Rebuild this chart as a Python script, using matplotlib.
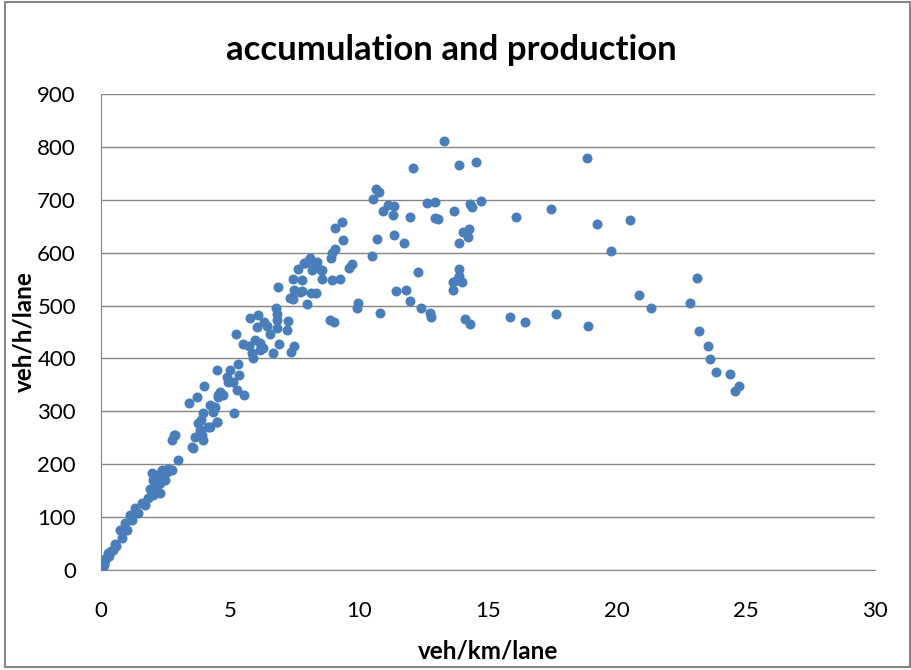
import numpy as np
import matplotlib.pyplot as plt

# accumulation (veh/km/lane) and production (veh/h/lane)
acc = [0.0, 0.03, 0.05, 0.08, 0.1, 0.12, 0.16, 0.2, 0.28, 0.3, 0.38, 0.48, 0.54, 0.6,
       0.74, 0.8, 0.93, 1.0, 1.12, 1.2, 1.32, 1.45, 1.58, 1.7, 1.83, 1.9, 2.03, 2.03,
       2.16, 2.16, 2.29, 2.29, 2.35, 2.48, 2.61, 2.74, 1.96, 2.1, 2.4, 2.55,
       3.0, 2.84, 2.74, 3.64, 3.97, 3.52, 3.58, 2.87, 3.9,
       4.22, 4.35, 3.97, 3.88, 3.75, 4.16, 4.51, 5.17, 4.42, 4.48, 4.22, 3.84, 4.55,
       4.61, 4.55, 4.93, 5.26, 5.54, 4.0, 3.71, 3.41, 5.30, 5.0, 5.36, 4.87, 5.10, 4.51, 4.74,
       5.24, 5.52, 5.75, 5.97, 6.16, 6.29, 5.84, 5.90, 6.16, 6.68, 6.91, 7.48, 7.36,
       5.78, 6.10, 6.32, 6.42, 6.03, 6.55, 6.83, 7.20, 7.26,
       6.78, 6.83, 6.81, 6.87, 7.48, 7.71, 7.33, 7.43, 8.0,
       7.45, 7.80, 8.58, 8.97, 9.26, 7.91, 8.10, 8.36, 7.87, 7.65, 8.17, 8.55, 8.27,
       8.14, 8.33, 7.78, 8.51,
       9.35, 9.08, 9.38, 9.06, 8.97, 8.90, 9.62, 9.74, 9.97, 9.93, 8.88, 9.04,
       10.52, 10.53, 10.67, 10.78, 10.69, 10.94, 10.81, 11.11, 11.34, 11.31, 11.37, 11.42,
       11.76, 11.82, 11.96, 11.99, 12.11, 12.27, 12.42, 12.64, 12.75, 12.80, 12.93, 12.93,
       13.07, 13.31, 13.63, 13.66, 13.67, 13.80, 13.86, 13.86, 13.86, 13.88, 13.99,
       14.05, 14.12, 14.24, 14.28, 14.29, 14.29, 14.38, 14.55, 14.72,
       15.84, 16.09, 16.43, 17.44, 17.64, 18.82, 18.88, 19.22, 19.75, 20.5, 20.84, 21.32,
       22.83, 23.11, 23.19, 23.54, 23.60, 23.85, 24.40, 24.57, 24.73]
prod = [0, 3, 5, 8, 9, 12, 19, 22, 32, 26, 35, 38, 50, 45,
        76, 60, 88, 76, 104, 95, 117, 107, 126, 122, 136, 154, 142, 170,
        151, 180, 145, 164, 189, 170, 190, 189, 183, 160, 175, 185,
        208, 255, 246, 252, 246, 233, 230, 255, 255,
        312, 299, 296, 284, 278, 271, 280, 296, 309, 280, 271, 265, 328,
        337, 331, 356, 340, 330, 348, 328, 316, 389, 378, 369, 365, 356, 378, 331,
        447, 427, 424, 435, 429, 419, 410, 400, 416, 410, 427, 423, 413,
        477, 482, 469, 461, 459, 447, 457, 454, 471,
        496, 484, 473, 536, 529, 526, 515, 512, 503,
        550, 548, 550, 548, 550, 581, 589, 583, 580, 570, 567, 567, 577,
        524, 524, 527, 567,
        658, 646, 624, 607, 600, 589, 571, 578, 504, 496, 473, 469,
        593, 702, 720, 715, 626, 679, 486, 690, 688, 672, 633, 527,
        618, 530, 508, 667, 761, 564, 495, 694, 485, 479, 695, 665,
        664, 811, 544, 529, 678, 548, 569, 556, 618, 766, 544,
        639, 474, 630, 644, 692, 466, 687, 771, 697,
        478, 668, 469, 682, 484, 779, 462, 655, 604, 662, 519, 496,
        505, 552, 452, 424, 398, 374, 370, 338, 348]

fig = plt.figure(figsize=(9.12, 6.70), dpi=100)
ax = fig.add_axes([0.1107, 0.1493, 0.8487, 0.7104])

grey = '#868686'
ax.scatter(acc, prod, s=52, color='#4a7ebb', zorder=3, linewidths=0)

ax.set_xlim(0, 30)
ax.set_ylim(0, 900)
ax.set_xticks(np.arange(0, 31, 5))
ax.set_yticks(np.arange(0, 901, 100))
ax.yaxis.grid(True, color=grey, linewidth=1)
ax.set_axisbelow(True)

for side in ['top', 'right']:
    ax.spines[side].set_visible(False)
for side in ['left', 'bottom']:
    ax.spines[side].set_color(grey)
ax.tick_params(length=0, labelsize=16)
ax.tick_params(axis='x', pad=22)
ax.tick_params(axis='y', pad=18)
for lab in ax.get_xticklabels() + ax.get_yticklabels():
    lab.set_family('Lato')

fig.text(0.495, 0.910, 'accumulation and production', fontsize=25, fontweight='bold',
         family='Lato', ha='center', va='baseline')

ax.set_xlabel('veh/km/lane', fontsize=17.5, fontweight='bold', family='Lato')
ax.xaxis.label.set_va('baseline')
ax.xaxis.set_label_coords(0.5, -0.187)
ax.set_ylabel('veh/h/lane', fontsize=17.5, fontweight='bold', family='Lato')
ax.yaxis.label.set_va('center')
ax.yaxis.set_label_coords(-0.0995, 0.5)

# chart area border
fig.patches.append(plt.Rectangle((0.0055, 0.0045), 0.992, 0.9925, transform=fig.transFigure,
                                 fill=False, edgecolor=grey, linewidth=1.5))

fig.savefig('out.png', dpi=100)
